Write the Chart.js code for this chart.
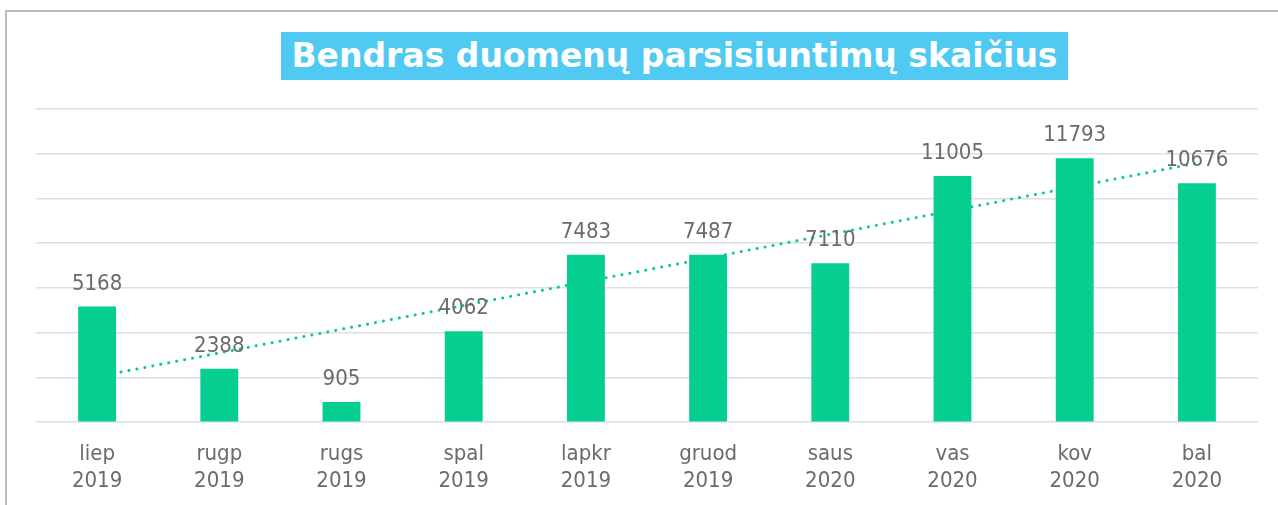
<!DOCTYPE html>
<html>
<head>
<meta charset="utf-8">
<script src="https://cdn.jsdelivr.net/npm/chart.js@4/dist/chart.umd.min.js"></script>
<style>
    body { margin: 0; background: #fff; overflow: hidden; }
    #frame { position: absolute; left: 5px; top: 10px; width: 1300px; height: 520px; border-left: 2px solid #bdbdbd; border-top: 2px solid #bdbdbd; }
    #wrap { position: absolute; left: 0; top: 0; width: 1278px; height: 505px; }
    #title { position: absolute; left: 281px; top: 32px; width: 787px; height: 48px; background: #50c9f3; color: #fff;
             font: bold 33px 'DejaVu Sans', sans-serif; text-align: center; line-height: 48px; white-space: nowrap; }
</style>
</head>
<body>
<div id="frame"></div>
<div id="wrap"><canvas id="chart-container"></canvas></div>
<div id="title">Bendras duomenų parsisiuntimų skaičius</div>
<script>
// Months (first label line) and years (second label line)
const months = ['liep', 'rugp', 'rugs', 'spal', 'lapkr', 'gruod', 'saus', 'vas', 'kov', 'bal'];
const years = ['2019', '2019', '2019', '2019', '2019', '2019', '2020', '2020', '2020', '2020'];
// Total downloads per month
const downloads = [5168, 2388, 905, 4062, 7483, 7487, 7110, 11005, 11793, 10676];
// Trend line end points (middle points left empty)
const trendValues = [2034, null, null, null, null, null, null, null, null, 11582];
// Value axis (hidden labels, gridlines only)
const yMax = 14000;
const yStep = 2000;

const labelFont = { family: "'DejaVu Sans Condensed', 'DejaVu Sans', sans-serif", size: 22, lineHeight: 1.2 };
const textColor = '#6b6b6b';
const barColor = '#05ce90';

// Draw the value above each bar
const barLabels = {
    id: 'barLabels',
    afterDatasetsDraw(chart) {
        const ctx = chart.ctx;
        const meta = chart.getDatasetMeta(0);
        ctx.save();
        ctx.font = labelFont.size + 'px ' + labelFont.family;
        ctx.fillStyle = textColor;
        ctx.textAlign = 'center';
        ctx.textBaseline = 'alphabetic';
        meta.data.forEach((bar, i) => {
            ctx.fillText(String(downloads[i]), bar.x, bar.y - 17);
        });
        ctx.restore();
    }
};

document.addEventListener('DOMContentLoaded', () => {
    const ctx = document.getElementById('chart-container').getContext('2d');
    const labels = months.map((m, i) => [m, years[i]]);

    new Chart(ctx, {
        type: 'bar',
        data: {
            labels: labels,
            datasets: [
                {
                    type: 'bar',
                    data: downloads,
                    backgroundColor: barColor,
                    barPercentage: 0.62,
                    categoryPercentage: 0.5,
                    order: 0,
                },
                {
                    type: 'line',
                    data: trendValues,
                    spanGaps: true,
                    borderColor: barColor,
                    borderWidth: 3,
                    borderDash: [0.1, 8],
                    borderCapStyle: 'round',
                    pointRadius: 0,
                    order: 1,
                }
            ]
        },
        options: {
            responsive: true,
            maintainAspectRatio: false,
            animation: false,
            layout: { padding: { left: 36, right: 20, top: 109, bottom: 0 } },
            plugins: {
                legend: { display: false },
                tooltip: { enabled: false },
            },
            scales: {
                x: {
                    grid: { display: false },
                    border: { display: false },
                    ticks: { color: textColor, font: labelFont, padding: 11, maxRotation: 0, autoSkip: false },
                },
                y: {
                    min: 0,
                    max: yMax,
                    ticks: { display: false, stepSize: yStep },
                    border: { display: false },
                    grid: { color: '#dadcf0', lineWidth: 1.5, drawTicks: false },
                },
            },
        },
        plugins: [barLabels],
    });
});
</script>
</body>
</html>
